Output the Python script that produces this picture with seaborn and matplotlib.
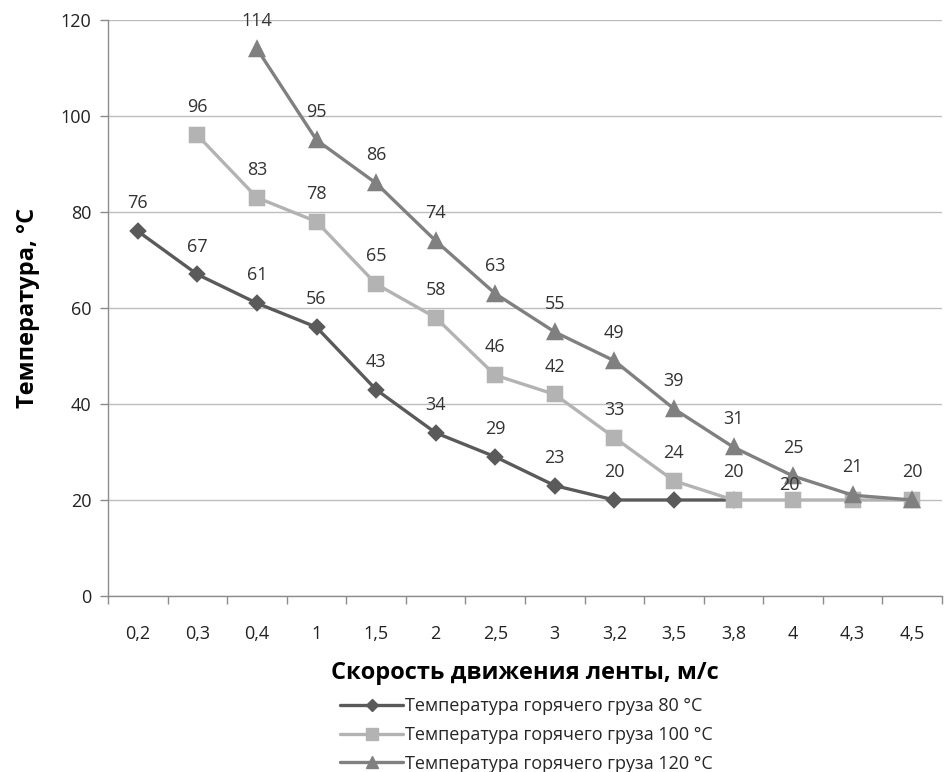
import pandas as pd
import seaborn as sns
import matplotlib.pyplot as plt
import numpy as np

# data
speeds = ['0,2', '0,3', '0,4', '1', '1,5', '2', '2,5', '3', '3,2', '3,5', '3,8', '4', '4,3', '4,5']
temp_80 = [76, 67, 61, 56, 43, 34, 29, 23, 20, 20, 20, np.nan, np.nan, np.nan]
temp_100 = [np.nan, 96, 83, 78, 65, 58, 46, 42, 33, 24, 20, 20, 20, 20]
temp_120 = [np.nan, np.nan, 114, 95, 86, 74, 63, 55, 49, 39, 31, 25, 21, 20]

# which points carry a visible value label
labels_80 = [76, 67, 61, 56, 43, 34, 29, 23, 20, None, None, None, None, None]
labels_100 = [None, 96, 83, 78, 65, 58, 46, 42, 33, 24, 20, 20, None, None]
labels_120 = [None, None, 114, 95, 86, 74, 63, 55, 49, 39, 31, 25, 21, 20]

series_names = ['Температура горячего груза 80 °C',
                'Температура горячего груза 100 °C',
                'Температура горячего груза 120 °C']

colors = ['#5a5a5a', '#b3b3b3', '#808080']
markers = ['D', 's', '^']

sns.set_theme(style='white')
plt.rcParams['font.family'] = ['Open Sans', 'DejaVu Sans']

frames = []
for name, vals in zip(series_names, [temp_80, temp_100, temp_120]):
    frames.append(pd.DataFrame({'speed': speeds, 'temp': vals, 'series': name}))
df = pd.concat(frames).dropna()

fig = plt.figure(figsize=(9.44, 7.72), dpi=100)
ax = fig.add_axes([108 / 944, 1 - 596 / 772, 834 / 944, 576 / 772])

sns.pointplot(data=df, x='speed', y='temp', hue='series', order=speeds,
              hue_order=series_names, palette=colors, markers=markers,
              linestyles='-', errorbar=None, ax=ax, legend=False,
              linewidth=2.4, markersize=8)

# marker sizes per series
for line, ms in zip(ax.lines, [7.5, 9.5, 10]):
    line.set_markersize(ms)

# value labels
for labs in [labels_80, labels_100, labels_120]:
    for i, lab in enumerate(labs):
        if lab is None:
            continue
        dx, dy = 0, 20
        if labs is labels_100 and i == 11:
            dx, dy = -3, 11
        ax.annotate(str(lab), (i, lab), xytext=(dx, dy), textcoords='offset points',
                    ha='center', va='center', fontsize=13, color='#333333')

ax.set_ylim(0, 120)
ax.set_yticks(range(0, 121, 20))
ax.set_xlim(-0.5, len(speeds) - 0.5)
ax.yaxis.grid(True, color='#bdbdbd', linewidth=1)
ax.xaxis.grid(False)
ax.set_axisbelow(True)

for s in ['top', 'right']:
    ax.spines[s].set_visible(False)
for s in ['left', 'bottom']:
    ax.spines[s].set_color('#8c8c8c')
    ax.spines[s].set_linewidth(1)

ax.set_xticks(np.arange(-0.5, len(speeds), 1), minor=True)
ax.tick_params(axis='x', which='major', length=0, pad=21, labelsize=13, labelcolor='#222222')
ax.tick_params(axis='x', which='minor', length=6, color='#8c8c8c', width=1, direction='out',
               bottom=True)
ax.tick_params(axis='y', length=6, color='#8c8c8c', width=1, direction='out', pad=6,
               labelsize=13, labelcolor='#222222', left=True)

ax.set_xlabel('Скорость движения ленты, м/с', fontsize=17, fontweight='bold',
              labelpad=13, color='black')
ax.set_ylabel('Температура, °C', fontsize=17, fontweight='bold', labelpad=15, color='black')

handles = [plt.Line2D([], [], color=c, marker=m, linewidth=2.4, markersize=ms)
           for c, m, ms in zip(colors, markers, [6, 8, 8])]
fig.legend(handles, series_names, loc='upper left', bbox_to_anchor=(331 / 944, 1 - 688 / 772),
           frameon=False, fontsize=13, handlelength=3.5, handletextpad=0.1,
           labelspacing=0.6, borderpad=0)

fig.savefig('out.png', dpi=100)
